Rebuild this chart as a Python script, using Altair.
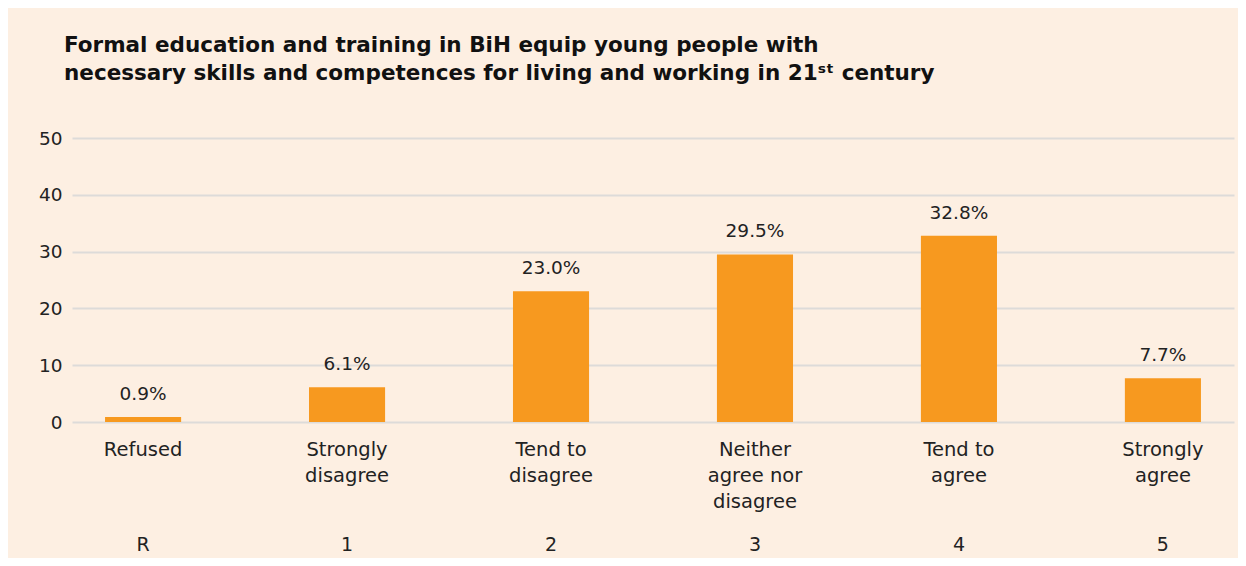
import altair as alt
import pandas as pd

categories = ["Refused", "Strongly\ndisagree", "Tend to\ndisagree", "Neither\nagree nor\ndisagree", "Tend to\nagree", "Strongly\nagree"]
codes = ["R", "1", "2", "3", "4", "5"]
values = [0.9, 6.1, 23.0, 29.5, 32.8, 7.7]
labels = ["0.9%", "6.1%", "23.0%", "29.5%", "32.8%", "7.7%"]
y_ticks = [0, 10, 20, 30, 40, 50]

df = pd.DataFrame({"cat": categories, "code": codes, "value": values, "label": labels})

FONT = "DejaVu Sans"
BG = "#FDEFE2"

x = alt.X("cat:N", sort=categories,
          scale=alt.Scale(paddingInner=0.627, paddingOuter=0.162),
          axis=alt.Axis(title=None, labelAngle=0, domain=False, ticks=False,
                        labelExpr="split(datum.label, '\\n')",
                        labelFont=FONT, labelFontSize=19.5, labelColor="#222222",
                        labelPadding=18, labelLineHeight=26, labelBaseline="top"))

base = alt.Chart(df).encode(x=x)

bars = base.mark_bar(color="#F7991F").encode(
    y=alt.Y("value:Q", scale=alt.Scale(domain=[0, 50]),
            axis=alt.Axis(title=None, values=y_ticks, domain=False, ticks=False,
                          labelFont=FONT, labelFontSize=18.5, labelColor="#222222",
                          labelPadding=10, gridColor="#DDDBD9", gridWidth=2))
)

text = base.mark_text(font=FONT, fontSize=18.5, color="#222222", baseline="alphabetic", dy=-17).encode(
    y="value:Q", text="label:N"
)

code_text = base.mark_text(font=FONT, fontSize=19, color="#222222", baseline="middle").encode(
    y=alt.value(407), text="code:N"
)

chart = alt.layer(bars, text, code_text).properties(
    width=1162, height=284,
    background=BG,
    padding={"left": 64, "top": 130, "right": 4, "bottom": 136},
    autosize=alt.AutoSizeParams(type="none"),
    title=alt.TitleParams(
        ["Formal education and training in BiH equip young people with",
         "necessary skills and competences for living and working in 21ˢᵗ century"],
        anchor="start", frame="group", dx=-8, offset=45,
        font=FONT, fontSize=21.5, fontWeight="bold", color="#111111", lineHeight=28
    )
).configure_view(stroke=None)

chart.save("out.html", embed_options={"renderer": "svg", "actions": False})
